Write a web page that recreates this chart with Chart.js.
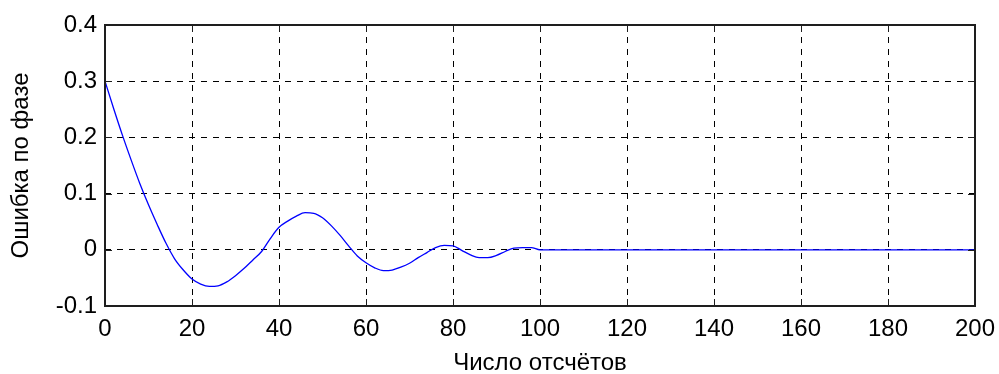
<!DOCTYPE html>
<html>
<head>
<meta charset="utf-8">
<script src="https://cdn.jsdelivr.net/npm/chart.js@4/dist/chart.umd.min.js"></script>
<style>
html,body{margin:0;padding:0;background:#fff;}
#wrap{width:999px;height:374px;position:relative;}
</style>
</head>
<body>
<div id="wrap"><canvas id="c" width="999" height="374"></canvas></div>
<script>
// Data
const sampleX = [0,2,4,6,8,10,12,14,16,18,20,22,24,26,28,30,32,34,36,38,40,42,44,46,48,50,52,54,56,58,60,62,64,66,68,70,72,74,76,78,80,82,84,86,88,90,92,94,96,98,100,200];
const phaseError = [0.300,0.251,0.204,0.160,0.118,0.080,0.045,0.012,-0.016,-0.036,-0.052,-0.061,-0.065,-0.064,-0.057,-0.046,-0.033,-0.018,-0.003,0.020,0.040,0.051,0.060,0.066,0.065,0.057,0.043,0.026,0.007,-0.011,-0.023,-0.032,-0.037,-0.036,-0.031,-0.024,-0.014,-0.005,0.004,0.008,0.007,-0.001,-0.009,-0.014,-0.014,-0.010,-0.003,0.003,0.004,0.004,0.0,0.0];
const xTickValues = [0,20,40,60,80,100,120,140,160,180,200];
const yTickLabels = ['-0.1','0','0.1','0.2','0.3','0.4'];
const xTitle = 'Число отсчётов';
const yTitle = 'Ошибка по фазе';

const FONT = "'Liberation Sans', Arial, sans-serif";
const points = sampleX.map((x, i) => ({x: x, y: phaseError[i]}));

const boxPlugin = {
  id: 'matlabBox',
  afterDatasetsDraw(chart) {
    const {ctx, chartArea: a, scales} = chart;
    ctx.save();
    ctx.strokeStyle = '#1e1e1e';
    ctx.lineWidth = 1;
    const tl = 7;
    ctx.beginPath();
    scales.x.ticks.forEach(t => {
      const px = Math.round(scales.x.getPixelForValue(t.value)) + 0.5;
      ctx.moveTo(px, a.bottom); ctx.lineTo(px, a.bottom - tl);
      ctx.moveTo(px, a.top); ctx.lineTo(px, a.top + tl);
    });
    scales.y.ticks.forEach(t => {
      const py = Math.round(scales.y.getPixelForValue(t.value)) + 0.5;
      ctx.moveTo(a.left, py); ctx.lineTo(a.left + tl, py);
      ctx.moveTo(a.right, py); ctx.lineTo(a.right - tl, py);
    });
    ctx.stroke();
    ctx.lineWidth = 2;
    ctx.strokeRect(a.left, a.top, a.right - a.left, a.bottom - a.top);
    ctx.restore();
  }
};

new Chart(document.getElementById('c'), {
  type: 'line',
  data: {
    datasets: [{
      data: points,
      borderColor: '#0000ff',
      borderWidth: 1.3,
      pointRadius: 0,
      fill: false,
      cubicInterpolationMode: 'monotone'
    }]
  },
  options: {
    responsive: false,
    animation: false,
    devicePixelRatio: 1,
    layout: {padding: {left: 0, right: 24, top: 25, bottom: 0}},
    plugins: {legend: {display: false}, tooltip: {enabled: false}},
    scales: {
      x: {
        type: 'linear',
        min: 0, max: 200,
        afterBuildTicks: s => { s.ticks = xTickValues.map(v => ({value: v})); },
        afterFit: s => { s.height = 68; s.paddingLeft = 0; s.paddingRight = 0; },
        border: {display: false, dash: [6, 6]},
        grid: {
          drawTicks: false,
          color: c => (c.tick && (c.tick.value === 0 || c.tick.value === 200)) ? 'rgba(0,0,0,0)' : '#000',
          lineWidth: 1
        },
        ticks: {
          color: '#000',
          font: {family: FONT, size: 24},
          padding: 9,
          maxRotation: 0,
          callback: v => String(v)
        },
        title: {
          display: true,
          text: xTitle,
          color: '#000',
          font: {family: FONT, size: 24},
          padding: {top: 0, bottom: -4}
        }
      },
      y: {
        type: 'linear',
        min: -0.1, max: 0.4,
        afterBuildTicks: s => { s.ticks = yTickLabels.map(l => ({value: parseFloat(l)})); },
        afterFit: s => { s.width = 105; s.paddingTop = 0; s.paddingBottom = 0; },
        border: {display: false, dash: [6, 6]},
        grid: {
          drawTicks: false,
          color: c => (c.tick && (Math.abs(c.tick.value - 0.4) < 1e-9 || Math.abs(c.tick.value + 0.1) < 1e-9)) ? 'rgba(0,0,0,0)' : '#000',
          lineWidth: 1
        },
        ticks: {
          color: '#000',
          font: {family: FONT, size: 24},
          padding: 8,
          callback: (v, i) => yTickLabels[i]
        },
        title: {
          display: true,
          text: yTitle,
          color: '#000',
          font: {family: FONT, size: 24},
          padding: {top: 7, bottom: 0}
        }
      }
    }
  },
  plugins: [boxPlugin]
});
</script>
</body>
</html>
